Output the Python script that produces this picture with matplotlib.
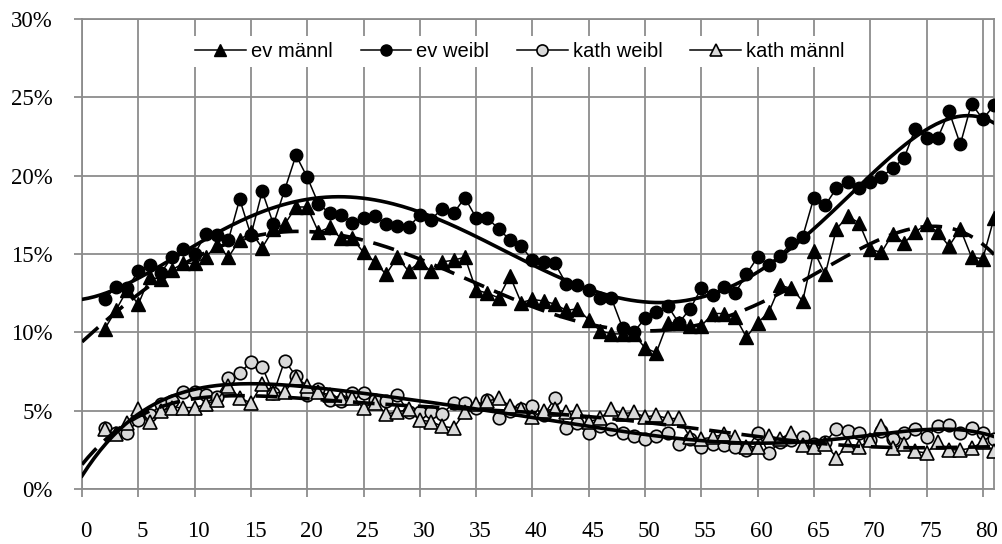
import matplotlib.pyplot as plt
import numpy as np
from matplotlib.transforms import ScaledTranslation

# age (x) and percentages
age = np.arange(2, 82)

ev_maennl = [10.2, 11.4, 12.7, 11.8, 13.5, 13.4, 14.0, 14.4, 14.4, 14.8,
             15.6, 14.8, 15.9, 16.4, 15.4, 16.6, 16.9, 18.0, 18.0, 16.4,
             16.7, 16.0, 16.0, 15.1, 14.5, 13.7, 14.8, 13.9, 14.5, 13.9,
             14.5, 14.6, 14.8, 12.7, 12.5, 12.2, 13.6, 11.9, 12.1, 12.0,
             11.8, 11.4, 11.5, 10.8, 10.1, 9.9, 9.9, 9.9, 9.0, 8.7,
             10.6, 10.6, 10.4, 10.4, 11.2, 11.2, 11.0, 9.7, 10.6, 11.3,
             13.0, 12.8, 12.0, 15.2, 13.7, 16.6, 17.4, 17.0, 15.3, 15.1,
             16.3, 15.7, 16.4, 16.9, 16.4, 15.5, 16.6, 14.8, 14.7, 17.3]

ev_weibl = [12.1, 12.9, 12.8, 13.9, 14.3, 13.8, 14.8, 15.3, 15.0, 16.3,
            16.2, 15.9, 18.5, 16.2, 19.0, 16.9, 19.1, 21.3, 19.9, 18.2,
            17.6, 17.5, 17.0, 17.3, 17.4, 16.9, 16.8, 16.7, 17.5, 17.2,
            17.9, 17.6, 18.6, 17.3, 17.3, 16.6, 15.9, 15.5, 14.6, 14.5,
            14.4, 13.1, 13.0, 12.7, 12.2, 12.2, 10.3, 10.0, 10.9, 11.3,
            11.7, 10.6, 11.5, 12.8, 12.4, 12.9, 12.5, 13.7, 14.8, 14.3,
            14.9, 15.7, 16.1, 18.6, 18.1, 19.2, 19.6, 19.2, 19.6, 19.9,
            20.5, 21.1, 23.0, 22.4, 22.4, 24.1, 22.0, 24.6, 23.6, 24.5]

kath_weibl = [3.9, 3.6, 3.6, 4.4, 4.7, 5.4, 5.6, 6.2, 6.2, 6.0,
              5.9, 7.1, 7.4, 8.1, 7.8, 6.1, 8.2, 7.2, 6.0, 6.4,
              5.7, 5.6, 6.1, 6.1, 5.7, 5.6, 6.0, 4.9, 4.9, 4.9,
              4.8, 5.5, 5.5, 5.2, 5.7, 4.5, 5.0, 5.1, 5.3, 4.7,
              5.8, 3.9, 4.2, 3.6, 4.0, 3.8, 3.6, 3.4, 3.2, 3.4,
              3.6, 2.9, 3.2, 2.7, 2.9, 2.8, 2.7, 2.5, 3.6, 2.3,
              3.0, 3.1, 3.3, 2.9, 3.0, 3.8, 3.7, 3.6, 3.1, 3.7,
              3.2, 3.6, 3.8, 3.3, 4.0, 4.1, 3.6, 3.9, 3.6, 3.2]

kath_maennl = [3.8, 3.5, 4.2, 5.1, 4.3, 5.0, 5.2, 5.2, 5.2, 5.4,
               5.7, 6.6, 5.8, 5.5, 6.7, 6.1, 6.2, 7.1, 6.6, 6.2,
               6.0, 5.8, 5.8, 5.2, 5.5, 4.8, 4.9, 5.1, 4.4, 4.3,
               4.0, 3.9, 4.9, 5.4, 5.6, 5.8, 5.3, 5.1, 4.6, 5.0,
               5.1, 4.9, 5.0, 4.3, 4.5, 5.1, 4.8, 4.9, 4.6, 4.7,
               4.5, 4.5, 3.3, 3.2, 3.3, 3.5, 3.3, 2.7, 2.7, 3.4,
               3.2, 3.6, 2.8, 2.7, 2.9, 2.0, 2.8, 2.7, 3.1, 4.0,
               2.6, 2.9, 2.4, 2.3, 3.0, 2.5, 2.5, 2.6, 3.0, 2.4]

labels = ['ev männl', 'ev weibl', 'kath weibl', 'kath männl']
grey = '#d9d9d9'

fig = plt.figure(figsize=(10.03, 5.44), dpi=100)
ax = fig.add_axes([0.0818, 0.1011, 0.9093, 0.8640])

ax.plot(age, ev_maennl, '-^', color='black', lw=1.1, ms=9.5, mfc='black', mec='black', label=labels[0], zorder=3)
ax.plot(age, ev_weibl, '-o', color='black', lw=1.1, ms=9, mfc='black', mec='black', label=labels[1], zorder=3)
ax.plot(age, kath_weibl, '-o', color='black', lw=1.1, ms=9, mfc=grey, mec='black', mew=1.2, label=labels[2], zorder=3)
ax.plot(age, kath_maennl, '-^', color='black', lw=1.1, ms=9.5, mfc=grey, mec='black', mew=1.2, label=labels[3], zorder=3)

# polynomial trend lines (like excel), evaluated from 0
xt = np.linspace(0, 81, 300)
for ys, ls in [(ev_maennl, (0, (6, 3))), (ev_weibl, '-'), (kath_weibl, '-'), (kath_maennl, (0, (6, 3)))]:
    p = np.polynomial.Polynomial.fit(age, ys, 6)
    ax.plot(xt, p(xt), color='black', lw=2.6, ls=ls, zorder=4)

ax.set_xlim(0, 81)
ax.set_ylim(0, 30)
ax.set_xticks(np.arange(0, 81, 5))
ax.set_yticks(np.arange(0, 31, 5))
ax.set_yticklabels(['%d%%' % v for v in range(0, 31, 5)])
ax.grid(True, color='#8c8c8c', lw=1.3)
ax.set_axisbelow(True)
for s in ax.spines.values():
    s.set_color('#8c8c8c')
    s.set_linewidth(1.3)
ax.tick_params(axis='both', direction='out', color='#8c8c8c', width=1.3, length=6)
ax.tick_params(axis='x', pad=17)
ax.tick_params(axis='y', pad=15)
shift = ScaledTranslation(4 / 100, 0, fig.dpi_scale_trans)
for t in ax.get_xticklabels():
    t.set_transform(t.get_transform() + shift)
for t in ax.get_xticklabels() + ax.get_yticklabels():
    t.set_fontfamily('Liberation Serif')
    t.set_fontsize(16.5)

leg = ax.legend(loc='upper center', bbox_to_anchor=(0.48, 0.985), ncol=4, frameon=True,
                edgecolor='none', facecolor='white', framealpha=1, fancybox=False,
                handlelength=2.5, handletextpad=0.25, columnspacing=1.4, borderpad=0.3,
                prop={'family': 'Liberation Sans', 'size': 14.5})
for h in leg.legend_handles:
    h.set_markersize(8)
leg.set_zorder(5)

plt.savefig('out.png', dpi=100)
